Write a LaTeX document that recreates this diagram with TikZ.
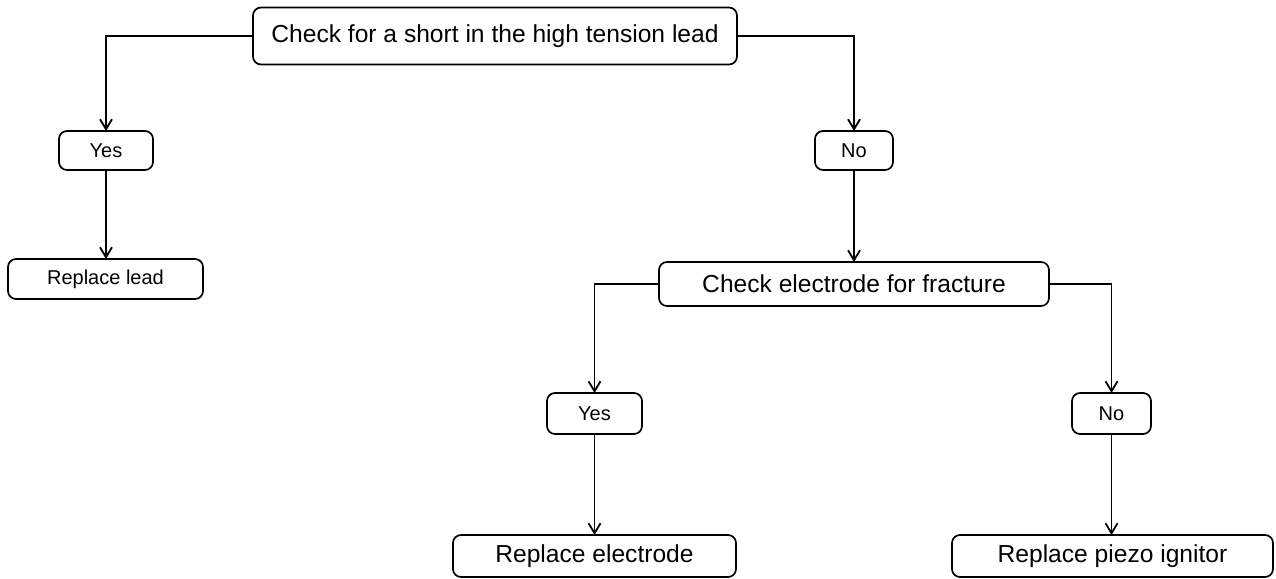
\documentclass[tikz,border=0pt]{standalone}
\usepackage{fontspec}
\setmainfont{Liberation Sans}
\usetikzlibrary{arrows.meta}
\begin{document}
\begin{tikzpicture}[x=1pt,y=-1pt,
  box/.style={draw=black, line width=1.7pt, rounded corners=8pt, inner sep=0pt, outer sep=0pt, align=center},
  big/.style={font=\fontsize{24.6}{29}\selectfont},
  small/.style={font=\fontsize{20}{24}\selectfont},
  conn/.style={line width=1.8pt, -{Straight Barb[length=10pt,width=12pt,line width=1.8pt]}}]
\useasboundingbox (0,0) rectangle (1276,578);
\node[box,big,minimum width=484pt,minimum height=57pt] (top) at (495,36) {Check for a short in the high tension lead};
\node[box,small,minimum width=94pt,minimum height=39pt] (y1) at (106,150.5) {Yes};
\node[box,small,minimum width=195pt,minimum height=40pt] (rl) at (105.5,279) {Replace lead};
\node[box,small,minimum width=78pt,minimum height=39pt] (n1) at (854,150.5) {No};
\node[box,big,minimum width=390pt,minimum height=44pt] (ce) at (854,284) {Check electrode for fracture};
\node[box,small,minimum width=95pt,minimum height=41pt] (y2) at (594.5,413.5) {Yes};
\node[box,small,minimum width=79pt,minimum height=41pt] (n2) at (1111.5,413.5) {No};
\node[box,big,minimum width=283pt,minimum height=42pt] (re) at (594.5,556) {Replace electrode};
\node[box,big,minimum width=321pt,minimum height=42pt] (rp) at (1112.5,556) {Replace piezo ignitor};
\draw[conn] (top.west) -| (y1.north);
\draw[conn] (top.east) -| (n1.north);
\draw[conn] (y1.south) -- (y1.south |- rl.north);
\draw[conn] (n1.south) -- (n1.south |- ce.north);
\draw[conn] (ce.west) -| (y2.north);
\draw[conn] (ce.east) -| (n2.north);
\draw[conn] (y2.south) -- (y2.south |- re.north);
\draw[conn] (n2.south) -- (n2.south |- rp.north);
\end{tikzpicture}
\end{document}
